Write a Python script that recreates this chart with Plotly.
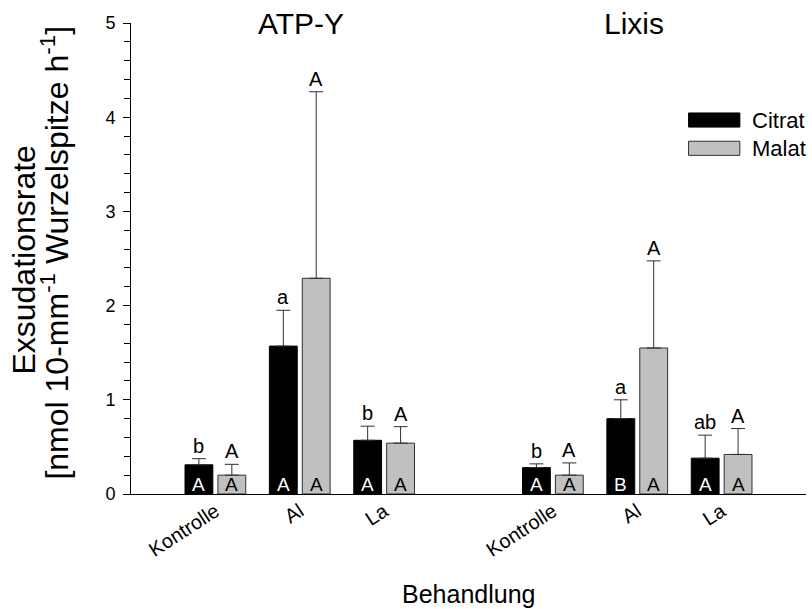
import plotly.graph_objects as go

# ---- data ----
treatments = ["Kontrolle", "Al", "La", "Kontrolle", "Al", "La"]
x_pos = [0, 1, 2, 4, 5, 6]
varieties = ["ATP-Y", "Lixis"]
variety_pos = [1.02, 4.96]

citrat = [0.31, 1.57, 0.57, 0.28, 0.80, 0.38]
citrat_err = [0.065, 0.38, 0.15, 0.04, 0.20, 0.245]
malat = [0.20, 2.29, 0.54, 0.20, 1.55, 0.42]
malat_err = [0.115, 1.98, 0.175, 0.13, 0.925, 0.275]

citrat_top = ["b", "a", "b", "b", "a", "ab"]
malat_top = ["A", "A", "A", "A", "A", "A"]
citrat_in = ["A", "A", "A", "A", "B", "A"]
malat_in = ["A", "A", "A", "A", "A", "A"]

y_title_1 = "Exsudationsrate"
y_title_2 = "[nmol 10-mm<sup>-1</sup> Wurzelspitze h<sup>-1</sup>]"
x_title = "Behandlung"

FONT = "Liberation Sans, Arial, sans-serif"
BAR_W = 0.33
OFF_C = -0.36
OFF_M = 0.03
ERR_COL = "#303030"

fig = go.Figure()
fig.add_trace(go.Bar(
    x=x_pos, y=citrat, name="Citrat", width=BAR_W, offset=OFF_C,
    marker=dict(color="black", line=dict(color="black", width=1)),
    error_y=dict(type="data", symmetric=False, array=citrat_err,
                 arrayminus=[0] * len(citrat_err), color=ERR_COL,
                 thickness=1, width=7),
    showlegend=False,
))
fig.add_trace(go.Bar(
    x=x_pos, y=malat, name="Malat", width=BAR_W, offset=OFF_M,
    marker=dict(color="#c0c0c0", line=dict(color="#303030", width=1)),
    error_y=dict(type="data", symmetric=False, array=malat_err,
                 arrayminus=[0] * len(malat_err), color=ERR_COL,
                 thickness=1, width=7),
    showlegend=False,
))

annotations = []
for i, xp in enumerate(x_pos):
    xc = xp + OFF_C + BAR_W / 2
    xm = xp + OFF_M + BAR_W / 2
    annotations.append(dict(x=xc, y=citrat[i] + citrat_err[i], text=citrat_top[i],
                            xref="x", yref="y", showarrow=False, yanchor="bottom",
                            font=dict(size=20, color="black", family=FONT)))
    annotations.append(dict(x=xm, y=malat[i] + malat_err[i], text=malat_top[i],
                            xref="x", yref="y", showarrow=False, yanchor="bottom",
                            font=dict(size=20, color="black", family=FONT)))
    annotations.append(dict(x=xc, y=0, text=citrat_in[i], xref="x", yref="y",
                            showarrow=False, yanchor="bottom", yshift=-3,
                            font=dict(size=19, color="white", family=FONT)))
    annotations.append(dict(x=xm, y=0, text=malat_in[i], xref="x", yref="y",
                            showarrow=False, yanchor="bottom", yshift=-3,
                            font=dict(size=19, color="black", family=FONT)))

for name, xp in zip(varieties, variety_pos):
    annotations.append(dict(x=xp, y=1.0, text=name, xref="x", yref="paper",
                            showarrow=False, yanchor="middle",
                            font=dict(size=30, color="black", family=FONT)))

# axis titles as annotations (tight line spacing like the reference)
annotations.append(dict(x=-0.159, y=0.497, text=y_title_1, xref="paper", yref="paper",
                        showarrow=False, textangle=-90, xanchor="center", yanchor="middle",
                        font=dict(size=32, color="black", family=FONT)))
annotations.append(dict(x=-0.113, y=0.512, text=y_title_2, xref="paper", yref="paper",
                        showarrow=False, textangle=-90, xanchor="center", yanchor="middle",
                        font=dict(size=32, color="black", family=FONT)))
annotations.append(dict(x=0.5, y=-0.212, text=x_title, xref="paper", yref="paper",
                        showarrow=False, xanchor="center", yanchor="middle",
                        font=dict(size=25, color="black", family=FONT)))

# manual legend (style only)
legend_items = [("Citrat", "black", "black"), ("Malat", "#c0c0c0", "#303030")]
shapes = []
for k, (lab, fill, line) in enumerate(legend_items):
    y_top = 0.809 - k * 0.060
    shapes.append(dict(type="rect", xref="paper", yref="paper",
                       x0=0.826, x1=0.902, y0=y_top - 0.030, y1=y_top,
                       fillcolor=fill, line=dict(color=line, width=1)))
    annotations.append(dict(x=0.917, y=y_top - 0.015, text=lab, xref="paper",
                            yref="paper", showarrow=False, xanchor="left",
                            yanchor="middle",
                            font=dict(size=22, color="black", family=FONT)))

fig.update_layout(
    width=812, height=609,
    margin=dict(l=131, r=6, t=23, b=115),
    paper_bgcolor="white", plot_bgcolor="white",
    font=dict(family=FONT, color="black"),
    annotations=annotations, shapes=shapes,
    showlegend=False,
    xaxis=dict(range=[-1, 7], tickvals=x_pos, ticktext=treatments,
               tickangle=-33, tickfont=dict(size=20), ticks="",
               ticklabelstandoff=-3,
               showline=True, linecolor="black", linewidth=1,
               showgrid=False, zeroline=False),
    yaxis=dict(range=[0, 5], dtick=1, ticks="outside", ticklen=7,
               tickcolor="black", tickfont=dict(size=18), ticklabelstandoff=4,
               minor=dict(dtick=0.2, ticks="outside", ticklen=6, tickcolor="black"),
               showline=True, linecolor="black", linewidth=1,
               showgrid=False, zeroline=False),
)

fig.write_html("out.html",
               config={"displayModeBar": False},
               post_script="document.body.style.margin='0';document.body.style.overflow='hidden';")
